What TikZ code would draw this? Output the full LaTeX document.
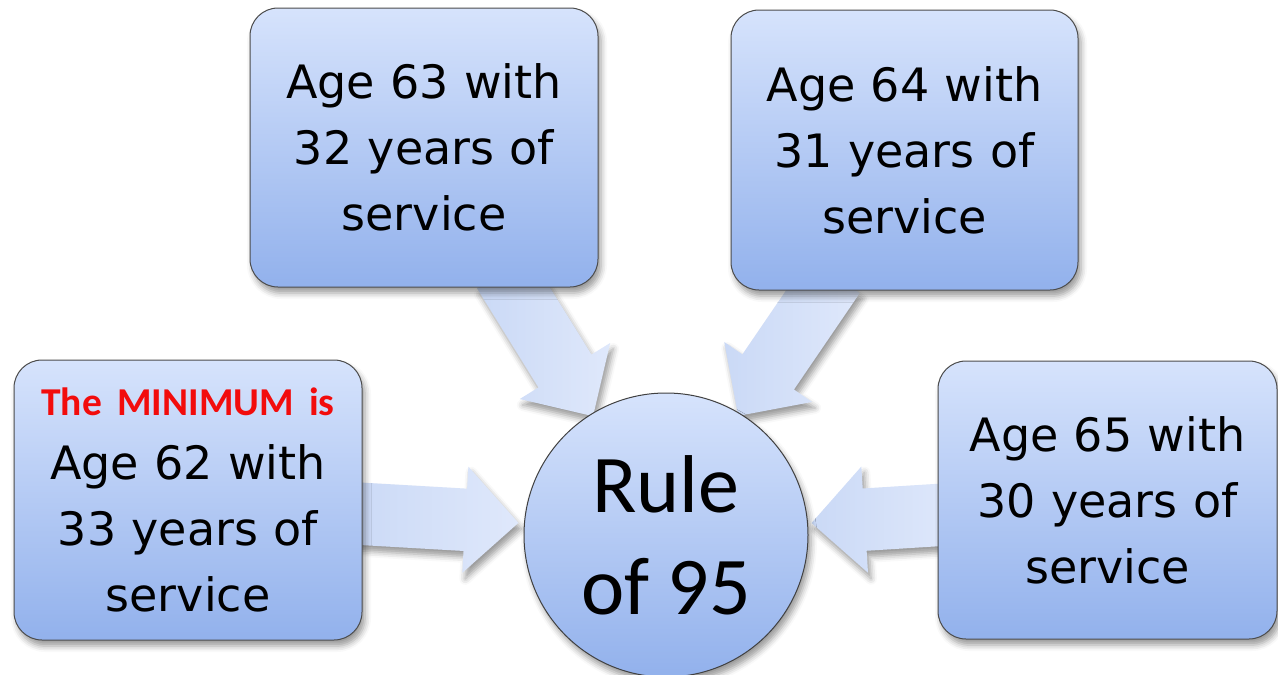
\documentclass[tikz,border=0pt]{standalone}
\usepackage{fontspec}
\setmainfont{DejaVu Sans}
\newfontfamily\calib{Carlito}
\usetikzlibrary{shapes.arrows,shadows.blur}
\definecolor{boxtop}{HTML}{D6E3FC}
\definecolor{boxbot}{HTML}{92B1EC}
\definecolor{arrtip}{HTML}{DFE8FB}
\definecolor{arrbase}{HTML}{CAD9F6}
\definecolor{minred}{HTML}{F20C0C}
\begin{document}
\begin{tikzpicture}[x=1pt,y=1pt,
		soft/.style={blur shadow={shadow xshift=3pt,shadow yshift=-6pt,shadow blur radius=6pt,shadow opacity=40}},
		agebox/.style={rectangle,rounded corners=28pt,draw=black!70,line width=1pt,
			top color=boxtop,bottom color=boxbot,soft,inner sep=4pt,
			text width=330pt,align=center,font=\fontsize{46}{66}\selectfont},
		fatarrow/.style={single arrow,single arrow head extend=22pt,single arrow tip angle=90,
			inner xsep=0pt,inner ysep=31pt,minimum height=#1,draw=none,
			left color=arrbase,right color=arrtip,soft}]
	\useasboundingbox (0,0) rectangle (1278,-675);
	
	\node[fatarrow=170pt,rotate=-58.2] (arr-tl) at (540,-330.7) {};
	\node[fatarrow=170pt,rotate=-124.3] (arr-tr) at (794.9,-332.8) {};
	\node[fatarrow=173pt,rotate=-3.3] (arr-l) at (416.5,-517) {};
	\node[fatarrow=143pt,rotate=183.6] (arr-r) at (898.5,-517.5) {};
	
	\node[agebox,minimum width=348pt,minimum height=279pt] (age63) at (424,-147.5)
		{Age 63 with\\32 years of\\service};
	\node[agebox,minimum width=347pt,minimum height=280pt] (age64) at (904.5,-150)
		{Age 64 with\\31 years of\\service};
	\node[agebox,minimum width=348pt,minimum height=280pt] (age62) at (188,-500)
		{{\calib\bfseries\fontsize{39.5}{58}\selectfont\color{minred}The MINIMUM is}\\[-2pt]Age 62 with\\33 years of\\service};
	\node[agebox,minimum width=339pt,minimum height=278pt] (age65) at (1107.5,-500)
		{Age 65 with\\30 years of\\service};
	
	\node[circle,draw=black!75,line width=1pt,top color=boxtop,bottom color=boxbot,soft,
		minimum size=284pt,inner sep=0pt,align=center,
		font=\calib\fontsize{82}{102}\selectfont] (rule) at (666,-535) {Rule\\of 95};
\end{tikzpicture}
\end{document}
